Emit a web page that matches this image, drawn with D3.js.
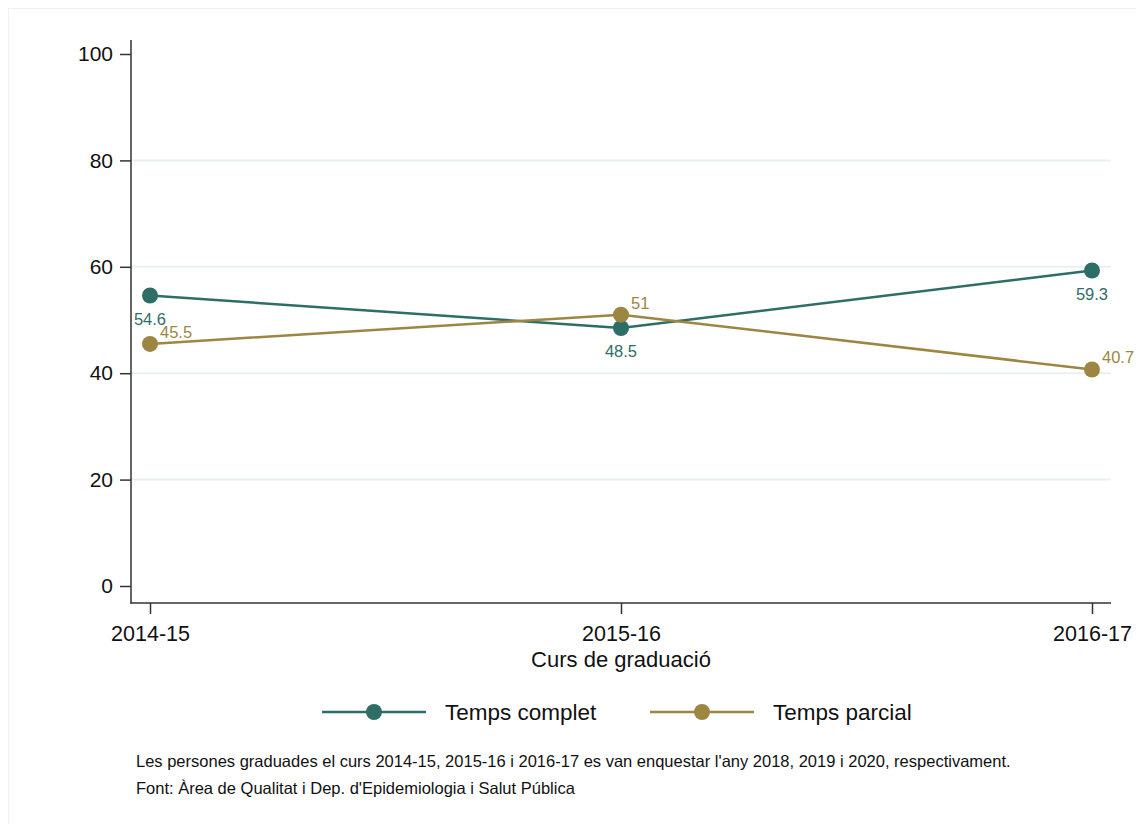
<!DOCTYPE html>
<html>
<head>
<meta charset="utf-8">
<script src="https://cdn.jsdelivr.net/npm/d3@7"></script>
<style>
  html, body { margin: 0; padding: 0; background: #fff; }
  svg { display: block; font-family: "Liberation Sans", Arial, sans-serif; }
</style>
</head>
<body>
<svg id="chart" width="1136" height="824"></svg>
<script>
const categories = ["2014-15", "2015-16", "2016-17"];
const tempsComplet = [54.6, 48.5, 59.3];
const tempsParcial = [45.5, 51, 40.7];
const yTicks = [0, 20, 40, 60, 80, 100];
const seriesNames = ["Temps complet", "Temps parcial"];
const xTitle = "Curs de graduació";
const notes = [
  "Les persones graduades el curs 2014-15, 2015-16 i 2016-17 es van enquestar l'any 2018, 2019 i 2020, respectivament.",
  "Font: Àrea de Qualitat i Dep. d'Epidemiologia i Salut Pública"
];

const colors = ["#2e6e66", "#9c8641"];
const svg = d3.select("#chart");

// outer faint frame
svg.append("rect").attr("x", 8.5).attr("y", 8.5).attr("width", 1140).attr("height", 830)
  .attr("fill", "none").attr("stroke", "#edf2f2").attr("stroke-width", 1);

const x = d3.scalePoint().domain(categories).range([150, 1092]);
const y = d3.scaleLinear().domain([0, 100]).range([586, 54]);

const plotLeft = 131, plotRight = 1111, plotBottom = 603, plotTop = 40;

// gridlines
svg.append("g").selectAll("line").data(yTicks.filter(d => d > 0 && d < 100)).join("line")
  .attr("x1", plotLeft).attr("x2", plotRight)
  .attr("y1", d => y(d)).attr("y2", d => y(d))
  .attr("stroke", "#e9f0f1").attr("stroke-width", 2);

// y axis
const yAxis = d3.axisLeft(y).tickValues(yTicks).tickSize(11).tickPadding(7).tickFormat(d3.format("d"));
const gy = svg.append("g").attr("transform", `translate(${plotLeft},0)`).call(yAxis);
gy.select(".domain").remove();
gy.append("line").attr("x1", 0).attr("x2", 0).attr("y1", plotTop).attr("y2", plotBottom + 0.5)
  .attr("stroke", "#333").attr("stroke-width", 1.5);
gy.selectAll(".tick line").attr("stroke", "#333").attr("stroke-width", 1.5);
gy.selectAll(".tick text").attr("font-size", 21).attr("fill", "#111")
  .attr("font-family", "Liberation Sans, Arial, sans-serif");

// x axis
const xAxis = d3.axisBottom(x).tickSize(11).tickPadding(12);
const gx = svg.append("g").attr("transform", `translate(0,${plotBottom})`).call(xAxis);
gx.select(".domain").remove();
gx.append("line").attr("x1", plotLeft - 0.75).attr("x2", plotRight).attr("y1", 0).attr("y2", 0)
  .attr("stroke", "#333").attr("stroke-width", 1.5);
gx.selectAll(".tick line").attr("stroke", "#333").attr("stroke-width", 1.5);
gx.selectAll(".tick text").attr("font-size", 21.5).attr("fill", "#111")
  .attr("font-family", "Liberation Sans, Arial, sans-serif");

svg.append("text").attr("x", x("2015-16")).attr("y", 667).attr("text-anchor", "middle")
  .attr("font-size", 22).attr("fill", "#111").text(xTitle);

const series = [
  { name: seriesNames[0], values: tempsComplet, color: colors[0] },
  { name: seriesNames[1], values: tempsParcial, color: colors[1] }
];

const line = d3.line().x((d, i) => x(categories[i])).y(d => y(d));

series.forEach((s, si) => {
  const g = svg.append("g");
  g.append("path").datum(s.values).attr("d", line).attr("fill", "none")
    .attr("stroke", s.color).attr("stroke-width", 2.5);
  g.selectAll("circle").data(s.values).join("circle")
    .attr("cx", (d, i) => x(categories[i])).attr("cy", d => y(d)).attr("r", 8)
    .attr("fill", s.color);
  const labels = g.selectAll("text").data(s.values).join("text")
    .attr("font-size", 16.5).attr("fill", s.color).text(d => d3.format("")(d));
  if (si === 0) {
    labels.attr("x", (d, i) => x(categories[i])).attr("y", d => y(d) + 29).attr("text-anchor", "middle");
  } else {
    labels.attr("x", (d, i) => x(categories[i]) + 10).attr("y", d => y(d) - 6).attr("text-anchor", "start");
  }
});

// legend
const legendItems = [
  { name: seriesNames[0], color: colors[0], x0: 322 },
  { name: seriesNames[1], color: colors[1], x0: 650 }
];
const lg = svg.append("g");
legendItems.forEach(it => {
  lg.append("line").attr("x1", it.x0).attr("x2", it.x0 + 104).attr("y1", 712).attr("y2", 712)
    .attr("stroke", it.color).attr("stroke-width", 2.5);
  lg.append("circle").attr("cx", it.x0 + 52).attr("cy", 712).attr("r", 8).attr("fill", it.color);
  lg.append("text").attr("x", it.x0 + 123).attr("y", 720).attr("font-size", 22.5).attr("fill", "#111").text(it.name);
});

// notes
notes.forEach((t, i) => {
  svg.append("text").attr("x", 136).attr("y", 767 + i * 27).attr("font-size", 16.5).attr("fill", "#111").text(t);
});
</script>
</body>
</html>
